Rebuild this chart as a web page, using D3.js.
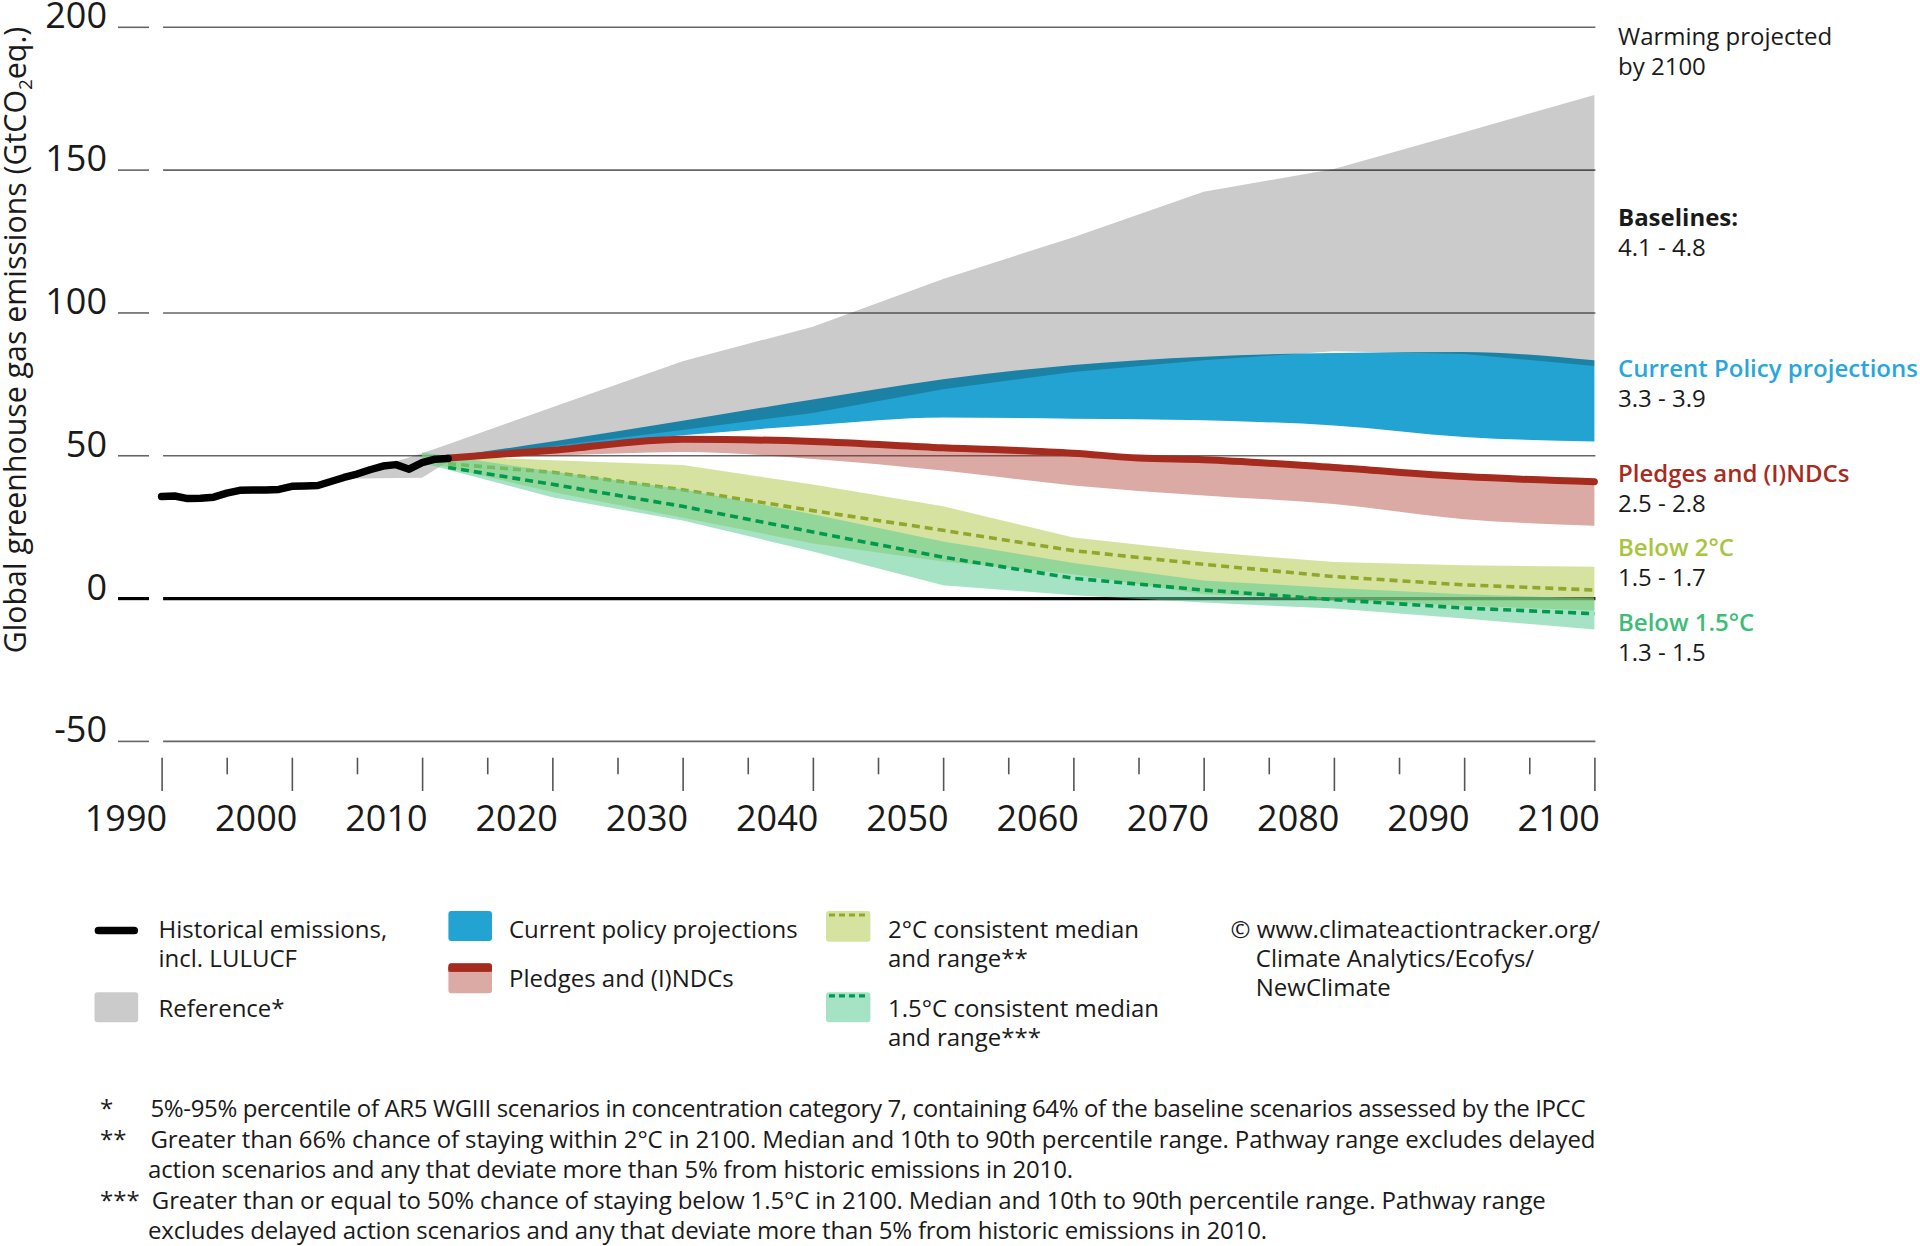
<!DOCTYPE html>
<html><head><meta charset="utf-8">
<script src="https://cdn.jsdelivr.net/npm/d3@7"></script>
<style>
html,body{margin:0;padding:0;background:#fff;}
svg{display:block;font-family:"Open Sans","Noto Sans",sans-serif;}
</style></head><body>
<svg id="chart" width="1920" height="1246"></svg>
<script>
// ---------------- DATA ----------------
const histYears  = [1990,1991,1992,1993,1994,1995,1996,1997,1998,1999,2000,2001,2002,2003,2004,2005,2006,2007,2008,2009,2010,2011,2012];
const histValues = [35.7,35.9,35.0,35.1,35.5,36.9,37.9,38.0,38.0,38.2,39.3,39.4,39.6,41.0,42.4,43.6,45.1,46.4,46.9,45.3,47.6,48.8,49.0];

const refYears = [2005,2010,2012,2020,2030,2040,2050,2060,2070,2080,2090,2100];
const refHigh  = [43.6,50.9,54.0,67.0,83.1,95.2,111.9,126.5,142.4,150.4,163.3,176.3];
const refLow   = [42.0,42.3,48.0,53.3,59.0,65.0,73.3,79.3,83.4,86.6,85.6,81.4];

const cppYears = [2012,2020,2030,2040,2050,2060,2070,2080,2090,2100];
const cppHigh  = [49.6,55.0,62.3,69.7,76.8,81.8,84.7,86.0,86.3,83.4];
const cppLow   = [49.2,53.0,57.2,60.7,63.4,63.0,62.4,60.6,56.6,55.0];

const pledgeYears  = [2012,2020,2030,2040,2050,2060,2065,2070,2080,2090,2100];
const pledgeMedian = [49.2,51.9,55.8,55.0,52.8,50.9,49.2,48.6,45.9,42.7,40.9];
const pledgeRangeYears = [2012,2020,2030,2040,2050,2060,2070,2080,2090,2100];
const pledgeHigh = [49.3,51.9,55.8,55.0,52.8,50.9,48.6,45.9,42.7,40.9];
const pledgeLow  = [49.0,50.0,51.3,48.9,44.8,39.6,36.1,33.1,27.8,25.5];

const c2Years  = [2010,2020,2030,2040,2050,2060,2070,2080,2090,2100];
const c2High   = [50.5,48.4,46.8,39.9,32.3,21.4,16.4,12.8,11.7,11.1];
const c2Low    = [48.0,37.3,28.3,19.3,13.0,8.5,1.5,-0.5,-2.5,-4.2];
const c2MedYears = [2012,2020,2030,2040,2050,2060,2070,2080,2090,2100];
const c2Median = [47.2,44.2,38.1,30.8,23.9,16.8,12.0,7.7,4.8,3.0];

const c15Years = [2010,2020,2030,2040,2050,2060,2070,2080,2090,2100];
const c15High  = [51.2,44.5,38.3,29.5,20.0,12.5,6.3,3.7,1.5,0.0];
const c15Low   = [47.5,35.5,27.3,16.5,4.7,1.2,-1.4,-3.5,-7.0,-10.8];
const c15MedYears = [2012,2020,2030,2040,2050,2060,2070,2080,2090,2100];
const c15Median = [45.9,40.0,32.3,23.3,14.5,7.1,3.0,-0.4,-3.3,-5.3];

const yTickValues = [-50,0,50,100,150,200];
const xMajorTicks = [1990,2000,2010,2020,2030,2040,2050,2060,2070,2080,2090,2100];
const xMinorTicks = [1995,2005,2015,2025,2035,2045,2055,2065,2075,2085,2095];

const scenarioNames  = ["Baselines:","Current Policy projections","Pledges and (I)NDCs","Below 2°C","Below 1.5°C"];
const warmingRanges  = ["4.1 - 4.8","3.3 - 3.9","2.5 - 2.8","1.5 - 1.7","1.3 - 1.5"];

const footMarks = ["*","**","","***",""];
const footLines = [
 "5%-95% percentile of AR5 WGIII scenarios in concentration category 7, containing 64% of the baseline scenarios assessed by the IPCC",
 "Greater than 66% chance of staying within 2°C in 2100. Median and 10th to 90th percentile range. Pathway range excludes delayed",
 "action scenarios and any that deviate more than 5% from historic emissions in 2010.",
 "Greater than or equal to 50% chance of staying below 1.5°C in 2100. Median and 10th to 90th percentile range. Pathway range",
 "excludes delayed action scenarios and any that deviate more than 5% from historic emissions in 2010."
];

// ---------------- CHART ----------------
const svg = d3.select('#chart');
svg.append('rect').attr('width',1920).attr('height',1246).attr('fill','#fff');
const TXT = '#1a1a1a';

const x = d3.scaleLinear().domain([1990,2100]).range([161.6,1594.4]);
const y = d3.scaleLinear().domain([-50,200]).range([741.4,27.3]);

const plot = svg.append('g').style('isolation','isolate');

// gridlines
const grid = plot.append('g');
grid.selectAll('line.g').data(yTickValues).join('line')
  .attr('x1', x(1990)+1.5).attr('x2', x(2100)+1)
  .attr('y1', d=>y(d)).attr('y2', d=>y(d))
  .attr('stroke', d=> d===0 ? '#000' : '#666')
  .attr('stroke-width', d=> d===0 ? 3.2 : 1.6);
svg.append('g').selectAll('line').data(yTickValues).join('line')
  .attr('x1',118).attr('x2',149)
  .attr('y1', d=>y(d)).attr('y2', d=>y(d))
  .attr('stroke', d=> d===0 ? '#000' : '#666')
  .attr('stroke-width', d=> d===0 ? 3.2 : 1.6);
svg.append('g').selectAll('text').data(yTickValues).join('text')
  .attr('x',107).attr('y', d=>y(d)+1)
  .attr('text-anchor','end').attr('font-size',36).attr('fill',TXT)
  .text(d=>d);

function bandArea(years, lo, hi, curve){
  return d3.area()
    .x((d,i)=>x(years[i]))
    .y0((d,i)=>y(lo[i]))
    .y1((d,i)=>y(hi[i]))
    .curve(curve)(years);
}
function seriesLine(years, vals, curve){
  return d3.line().x((d,i)=>x(years[i])).y((d,i)=>y(vals[i])).curve(curve)(years);
}

// reference (grey)
plot.append('path').attr('d', bandArea(refYears, refLow, refHigh, d3.curveLinear))
  .attr('fill','#cbcbcb').style('mix-blend-mode','multiply');
// current policy
plot.append('path').attr('d', bandArea(cppYears, cppLow, cppHigh, d3.curveMonotoneX))
  .attr('fill','#22a3d1').style('mix-blend-mode','multiply');
// pledges range
plot.append('path').attr('d', bandArea(pledgeRangeYears, pledgeLow, pledgeHigh, d3.curveMonotoneX))
  .attr('fill','#a62b1f').attr('fill-opacity',0.4);
// 2C range
plot.append('path').attr('d', bandArea(c2Years, c2Low, c2High, d3.curveLinear))
  .attr('fill','rgb(180,202,82)').attr('fill-opacity',0.55);
plot.append('path').attr('d', seriesLine(c2MedYears, c2Median, d3.curveLinear))
  .attr('fill','none').attr('stroke','#8fa82b').attr('stroke-width',3.6).attr('stroke-dasharray','8,5');
// 1.5C range
plot.append('path').attr('d', bandArea(c15Years, c15Low, c15High, d3.curveLinear))
  .attr('fill','rgb(93,204,148)').attr('fill-opacity',0.55);
plot.append('path').attr('d', seriesLine(c15MedYears, c15Median, d3.curveLinear))
  .attr('fill','none').attr('stroke','#009a4e').attr('stroke-width',3.6).attr('stroke-dasharray','8,5');
// pledges median
plot.append('path').attr('d', seriesLine(pledgeYears, pledgeMedian, d3.curveMonotoneX))
  .attr('fill','none').attr('stroke','#a62b1f').attr('stroke-width',7).attr('stroke-linecap','round');
// historical
plot.append('path').attr('d', seriesLine(histYears, histValues, d3.curveLinear))
  .attr('fill','none').attr('stroke','#000').attr('stroke-width',7.5)
  .attr('stroke-linecap','round').attr('stroke-linejoin','round');

// x axis
const axMajor = svg.append('g').attr('transform','translate(0,757.7)')
  .call(d3.axisBottom(x).tickValues(xMajorTicks).tickSize(33.3).tickSizeOuter(0).tickFormat(d3.format('d')));
axMajor.select('.domain').remove();
axMajor.selectAll('line').attr('stroke','#555').attr('stroke-width',1.6);
axMajor.selectAll('text').attr('x',5).attr('y',73.5).attr('dy',0)
  .attr('text-anchor','end').attr('font-size',36).attr('fill',TXT)
  .attr('font-family','"Open Sans","Noto Sans",sans-serif');
const axMinor = svg.append('g').attr('transform','translate(0,757.7)')
  .call(d3.axisBottom(x).tickValues(xMinorTicks).tickSize(16.6).tickSizeOuter(0).tickFormat(''));
axMinor.select('.domain').remove();
axMinor.selectAll('line').attr('stroke','#555').attr('stroke-width',1.6);

// y title
const yt = svg.append('text').attr('transform','translate(25.5,340) rotate(-90)')
  .attr('text-anchor','middle').attr('font-size',30.3).attr('fill',TXT);
yt.append('tspan').text('Global greenhouse gas emissions (GtCO');
yt.append('tspan').attr('font-size',19).attr('dy',6).text('2');
yt.append('tspan').attr('dy',-6).text('eq.)');

// right labels
const RX = 1618;
const rl = svg.append('g').attr('font-size',24).attr('fill',TXT);
rl.append('text').attr('x',RX).attr('y',44.6).text('Warming projected');
rl.append('text').attr('x',RX).attr('y',74.5).text('by 2100');
const nameY  = [226,377,482,556,631];
const rangeY = [256,406.7,512,586,661];
const nameColors = ['#1a1a1a','#29a6db','#a82b1e','#a9c43e','#3dbd78'];
const nameWeights = [700,600,600,600,600];
scenarioNames.forEach((n,i)=>{
  rl.append('text').attr('x',RX).attr('y',nameY[i]).attr('fill',nameColors[i]).attr('font-weight',nameWeights[i]).text(n);
  rl.append('text').attr('x',RX).attr('y',rangeY[i]).text(warmingRanges[i]);
});

// legend
const lg = svg.append('g').attr('font-size',24).attr('fill',TXT);
lg.append('line').attr('x1',98.5).attr('x2',134.2).attr('y1',930.5).attr('y2',930.5)
  .attr('stroke','#000').attr('stroke-width',7.7).attr('stroke-linecap','round');
lg.append('rect').attr('x',94.5).attr('y',992.3).attr('width',43.7).attr('height',30).attr('rx',3).attr('fill','#cbcbcb');
lg.append('rect').attr('x',448.4).attr('y',911).attr('width',43.6).attr('height',30).attr('rx',3).attr('fill','#22a3d1');
lg.append('rect').attr('x',448.4).attr('y',963.3).attr('width',43.6).attr('height',30).attr('rx',3).attr('fill','#dcaaa4');
lg.append('rect').attr('x',448.4).attr('y',963.3).attr('width',43.6).attr('height',8.4).attr('rx',3).attr('fill','#a62b1f');
lg.append('rect').attr('x',448.4).attr('y',967).attr('width',43.6).attr('height',4.7).attr('fill','#a62b1f');
lg.append('rect').attr('x',826).attr('y',911).attr('width',44.4).attr('height',30.7).attr('rx',3).attr('fill','#d6e2a0');
lg.append('line').attr('x1',829).attr('x2',868).attr('y1',915).attr('y2',915)
  .attr('stroke','#8fa82b').attr('stroke-width',3.2).attr('stroke-dasharray','6,4');
lg.append('rect').attr('x',826).attr('y',992.3).attr('width',44.4).attr('height',30).attr('rx',3).attr('fill','#a6e3c4');
lg.append('line').attr('x1',829).attr('x2',868).attr('y1',995.8).attr('y2',995.8)
  .attr('stroke','#009a4e').attr('stroke-width',3.2).attr('stroke-dasharray','6,4');
const legTexts = [
  [158.5,937.7,'Historical emissions,'],[158.5,966.7,'incl. LULUCF'],[158.5,1016.7,'Reference*'],
  [509,937.7,'Current policy projections'],[509,986.7,'Pledges and (I)NDCs'],
  [888,937.7,'2°C consistent median'],[888,966.7,'and range**'],
  [888,1016.7,'1.5°C consistent median'],[888,1045.5,'and range***'],
  [1230.6,937.7,'© www.climateactiontracker.org/'],[1255.8,966.7,'Climate Analytics/Ecofys/'],[1255.8,995.7,'NewClimate']
];
legTexts.forEach(t=> lg.append('text').attr('x',t[0]).attr('y',t[1]).text(t[2]));

// footnotes
const fn = svg.append('g').attr('font-size',24).attr('fill',TXT);
const footY = [1117,1147.5,1178,1208.5,1239];
const footX = [150.5,150.5,148,151.8,148];
const footW = [1435,1445,925,1394,1119];
footLines.forEach((l,i)=>{
  if(footMarks[i]) fn.append('text').attr('x',100).attr('y',footY[i]).text(footMarks[i]);
  fn.append('text').attr('x',footX[i]).attr('y',footY[i])
    .attr('textLength',footW[i]).attr('lengthAdjust','spacing').text(l);
});
</script>
</body></html>
